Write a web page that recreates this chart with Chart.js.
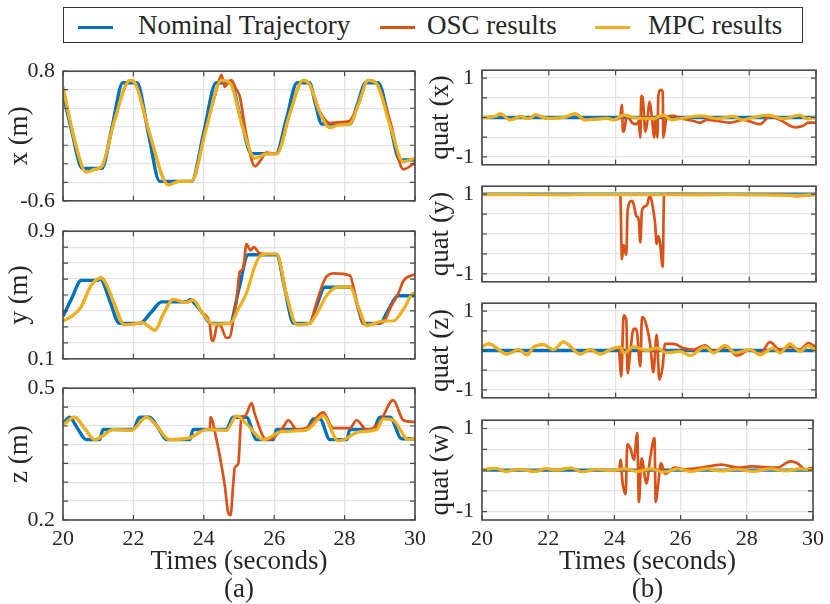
<!DOCTYPE html>
<html>
<head>
<meta charset="utf-8">
<script src="https://cdn.jsdelivr.net/npm/chart.js@4.4.0/dist/chart.umd.min.js"></script>
<style>
  body { margin: 0; background: #fff; width: 830px; height: 604px; position: relative; overflow: hidden;
         font-family: "Liberation Serif", "Times New Roman", serif; color: #262626; }
  canvas { position: absolute; }
  #legend { position: absolute; left: 63px; top: 7px; width: 740px; height: 36px; box-sizing: border-box;
            border: 1.5px solid #333; background: #fff; }
  #legend .ln { position: absolute; top: 18px; width: 35px; height: 3px; }
  #legend .lt { position: absolute; top: 0; line-height: 34px; font-size: 27px; white-space: nowrap; }
</style>
</head>
<body>
<div id="legend">
  <span class="ln" style="left:14px;background:#0072BD"></span><span class="lt" style="left:74px">Nominal Trajectory</span>
  <span class="ln" style="left:316px;background:#D95319"></span><span class="lt" style="left:363px">OSC results</span>
  <span class="ln" style="left:531px;background:#EDB120"></span><span class="lt" style="left:584px">MPC results</span>
</div>
<canvas id="cx" width="435" height="172" style="left:0;top:50px"></canvas>
<canvas id="cy" width="435" height="170" style="left:0;top:210px"></canvas>
<canvas id="cz" width="435" height="237" style="left:0;top:367px"></canvas>
<canvas id="qx" width="405" height="137" style="left:425px;top:49px"></canvas>
<canvas id="qy" width="405" height="138" style="left:425px;top:165px"></canvas>
<canvas id="qz" width="405" height="137" style="left:425px;top:282px"></canvas>
<canvas id="qw" width="405" height="205" style="left:425px;top:399px"></canvas>
<script>
// ---- data ----
const timeTicks = [20, 22, 24, 26, 28, 30];

// x position
const xNomT = [20, 20.25, 20.55, 21.1, 21.4, 21.7, 22.1, 22.42, 22.75, 23.65, 24.0, 24.35, 24.75, 25.05, 25.35, 26.05, 26.35, 26.65, 27.0, 27.17, 27.35, 28.15, 28.37, 28.6, 28.95, 29.27, 29.57, 30];
const xNomV = [0.56, 0.15, -0.25, -0.25, 0.21, 0.676, 0.676, 0.14, -0.39, -0.39, 0.14, 0.676, 0.676, 0.29, -0.09, -0.09, 0.29, 0.676, 0.676, 0.45, 0.23, 0.23, 0.45, 0.676, 0.676, 0.26, -0.16, -0.16];
const xMpcT = [20, 20.3, 20.66, 20.9, 21.1, 21.45, 21.9, 22.05, 22.45, 22.99, 23.3, 23.65, 24.05, 24.5, 24.75, 25.1, 25.45, 25.78, 26.07, 26.45, 26.82, 27.0, 27.3, 27.58, 27.85, 28.15, 28.4, 28.67, 28.9, 29.3, 29.67, 30];
const xMpcV = [0.63, 0.1, -0.29, -0.26, -0.23, 0.25, 0.70, 0.67, 0.14, -0.427, -0.39, -0.39, 0.15, 0.70, 0.67, 0.2, -0.14, -0.093, -0.093, 0.35, 0.70, 0.66, 0.35, 0.19, 0.22, 0.23, 0.45, 0.70, 0.67, 0.2, -0.177, -0.14];
const xOscT = [20, 20.3, 20.66, 20.9, 21.1, 21.45, 21.9, 22.05, 22.45, 22.99, 23.3, 23.65, 24.05, 24.35, 24.5, 24.6, 24.7, 24.79, 24.9, 25.02, 25.2, 25.45, 25.6, 25.78, 26.07, 26.45, 26.82, 27.0, 27.3, 27.58, 27.85, 28.12, 28.4, 28.67, 28.9, 29.3, 29.67, 30];
const xOscV = [0.63, 0.1, -0.29, -0.26, -0.23, 0.25, 0.70, 0.67, 0.14, -0.427, -0.39, -0.39, 0.17, 0.58, 0.76, 0.63, 0.69, 0.70, 0.62, 0.53, 0.13, -0.227, -0.17, -0.08, -0.093, 0.35, 0.70, 0.66, 0.36, 0.24, 0.25, 0.26, 0.45, 0.70, 0.67, 0.25, -0.26, -0.19];

// y position
const yNomT = [20, 20.25, 20.52, 21.0, 21.06, 21.12, 21.35, 21.6, 22.18, 22.5, 22.8, 23.5, 23.62, 23.7, 23.95, 24.2, 24.74, 25.0, 25.26, 26.07, 26.3, 26.55, 27.0, 27.2, 27.44, 28.2, 28.37, 28.54, 29.0, 29.25, 29.52, 30];
const yNomV = [0.366, 0.48, 0.592, 0.592, 0.605, 0.59, 0.45, 0.322, 0.322, 0.39, 0.457, 0.457, 0.47, 0.457, 0.39, 0.322, 0.322, 0.54, 0.752, 0.752, 0.54, 0.322, 0.322, 0.43, 0.549, 0.549, 0.43, 0.322, 0.322, 0.41, 0.495, 0.495];
const yMpcT = [20, 20.24, 20.5, 20.8, 21.09, 21.2, 21.45, 21.74, 22.0, 22.27, 22.45, 22.61, 22.85, 23.13, 23.5, 23.7, 23.95, 24.27, 24.74, 25.0, 25.21, 25.45, 25.59, 25.78, 26.07, 26.35, 26.64, 27.01, 27.2, 27.5, 27.82, 28.15, 28.4, 28.63, 29.1, 29.38, 29.7, 29.95, 30];
const yMpcV = [0.337, 0.366, 0.42, 0.56, 0.607, 0.58, 0.45, 0.314, 0.318, 0.327, 0.3, 0.279, 0.38, 0.472, 0.453, 0.468, 0.39, 0.318, 0.322, 0.42, 0.511, 0.68, 0.742, 0.757, 0.757, 0.5, 0.314, 0.322, 0.38, 0.5, 0.549, 0.549, 0.42, 0.308, 0.337, 0.337, 0.42, 0.511, 0.51];
const yOscT = [20, 20.24, 20.5, 20.8, 21.09, 21.2, 21.45, 21.74, 22.0, 22.27, 22.45, 22.61, 22.85, 23.13, 23.5, 23.7, 23.95, 24.17, 24.22, 24.27, 24.36, 24.41, 24.5, 24.64, 24.74, 24.85, 24.93, 25.02, 25.12, 25.21, 25.33, 25.42, 25.59, 25.78, 26.07, 26.35, 26.64, 27.01, 27.2, 27.44, 27.68, 28.15, 28.35, 28.58, 29.1, 29.3, 29.53, 29.67, 30];
const yOscV = [0.337, 0.366, 0.42, 0.56, 0.607, 0.58, 0.45, 0.314, 0.318, 0.327, 0.3, 0.279, 0.38, 0.472, 0.453, 0.468, 0.39, 0.318, 0.221, 0.212, 0.30, 0.318, 0.299, 0.231, 0.237, 0.36, 0.47, 0.645, 0.665, 0.819, 0.78, 0.80, 0.761, 0.757, 0.757, 0.5, 0.314, 0.322, 0.45, 0.60, 0.636, 0.622, 0.45, 0.314, 0.33, 0.42, 0.511, 0.588, 0.63];

// z position
const zNomT = [20, 20.19, 20.4, 20.66, 21.04, 21.14, 21.99, 22.18, 22.46, 22.7, 22.94, 23.6, 23.7, 24.64, 24.83, 25.21, 25.5, 25.97, 26.07, 26.92, 27.11, 27.3, 27.58, 28.06, 28.15, 28.82, 29.0, 29.29, 29.62, 30];
const zNomV = [0.419, 0.434, 0.41, 0.383, 0.383, 0.406, 0.406, 0.434, 0.434, 0.41, 0.383, 0.383, 0.406, 0.406, 0.434, 0.434, 0.383, 0.383, 0.406, 0.406, 0.430, 0.430, 0.383, 0.383, 0.406, 0.406, 0.434, 0.434, 0.385, 0.385];
const zMpcT = [20, 20.33, 20.6, 20.9, 21.1, 21.42, 21.94, 22.37, 22.6, 23.03, 23.6, 24.08, 24.64, 24.93, 25.2, 25.69, 26.21, 26.92, 27.39, 27.82, 28.44, 28.91, 29.1, 29.38, 29.81, 30];
const zMpcV = [0.416, 0.434, 0.41, 0.383, 0.39, 0.406, 0.404, 0.434, 0.42, 0.383, 0.387, 0.406, 0.404, 0.437, 0.42, 0.383, 0.401, 0.405, 0.437, 0.380, 0.401, 0.406, 0.43, 0.427, 0.383, 0.387];
const zOscT = [20, 20.33, 20.6, 20.9, 21.1, 21.42, 21.94, 22.37, 22.6, 23.03, 23.6, 24.08, 24.17, 24.19, 24.36, 24.5, 24.6, 24.69, 24.76, 24.83, 24.88, 24.98, 25.07, 25.17, 25.36, 25.45, 25.78, 25.97, 26.26, 26.40, 26.64, 26.97, 27.39, 27.68, 28.15, 28.34, 28.63, 29.0, 29.38, 29.67, 30];
const zOscV = [0.416, 0.434, 0.41, 0.383, 0.39, 0.406, 0.404, 0.434, 0.42, 0.383, 0.387, 0.406, 0.406, 0.434, 0.383, 0.326, 0.276, 0.218, 0.211, 0.276, 0.319, 0.329, 0.434, 0.437, 0.466, 0.441, 0.383, 0.387, 0.412, 0.427, 0.406, 0.412, 0.445, 0.409, 0.409, 0.427, 0.405, 0.423, 0.473, 0.427, 0.423];

// quaternion, nominal
const qNomT = [20, 30];
const qxNomV = [0, 0];
const qyNomV = [1, 1];
const qzNomV = [0, 0];
const qwNomV = [0, 0];

// quat (x)
const qxMpcT = [20, 20.4, 20.55, 20.85, 21.15, 21.4, 21.6, 21.94, 22.44, 22.79, 23.09, 23.74, 23.94, 24.24, 24.54, 25.13, 25.43, 25.68, 26.13, 26.58, 27.03, 27.53, 27.78, 28.13, 28.57, 29.02, 29.52, 29.72, 30];
const qxMpcV = [0, 0.03, 0.09, -0.06, 0.02, -0.03, 0.07, -0.02, 0, 0.09, -0.06, -0.02, -0.06, 0.06, 0, -0.03, 0.06, -0.06, 0, 0.04, -0.03, 0.03, -0.06, 0, 0.06, -0.03, 0.06, -0.03, 0];
const qxOscT = [20, 20.4, 20.55, 20.85, 21.15, 21.4, 21.6, 21.94, 22.44, 22.79, 23.09, 23.74, 23.94, 24.14, 24.19, 24.22, 24.26, 24.34, 24.49, 24.64, 24.69, 24.74, 24.77, 24.81, 24.89, 24.94, 25.02, 25.08, 25.16, 25.2, 25.25, 25.28, 25.35, 25.41, 25.43, 25.53, 25.73, 25.93, 26.33, 26.53, 26.73, 27.43, 27.83, 28.32, 28.62, 28.92, 29.37, 29.62, 29.77, 30];
const qxOscV = [0, 0.03, 0.09, -0.06, 0.02, -0.03, 0.07, -0.02, 0, 0.09, -0.06, -0.02, -0.06, 0.02, 0.32, -0.36, -0.32, 0.06, -0.13, -0.17, -0.09, -0.51, 0.55, 0.51, -0.36, -0.17, 0.40, 0.06, -0.51, 0.02, -0.51, 0.55, 0.70, 0.66, -0.51, 0.02, 0.04, -0.02, -0.09, -0.13, -0.06, -0.13, -0.06, -0.17, 0.02, -0.06, -0.25, -0.21, -0.13, -0.13];

// quat (y)
const qyMpcT = [20, 21, 22.5, 23, 25, 26.5, 27.5, 29.4, 30];
const qyMpcV = [0.99, 0.99, 0.98, 0.99, 0.99, 0.98, 0.99, 0.97, 0.99];
const qyOscT = [20, 24.14, 24.19, 24.24, 24.32, 24.36, 24.49, 24.54, 24.62, 24.69, 24.74, 24.79, 24.94, 25.02, 25.08, 25.18, 25.23, 25.28, 25.33, 25.41, 25.45, 25.53, 29.0, 29.4, 30];
const qyOscV = [0.99, 0.99, -0.63, -0.28, -0.52, 0.6, 0.83, 0.75, 0.45, 0.37, -0.21, 0.6, 0.72, 0.97, 0.83, 0.29, -0.25, -0.05, -0.21, -0.82, 0.95, 1, 0.99, 0.95, 0.99];

// quat (z)
const qzMpcT = [20, 20.2, 20.75, 21.1, 21.35, 21.55, 21.84, 22.14, 22.44, 22.94, 23.24, 23.54, 23.84, 24.14, 24.24, 24.54, 24.94, 25.23, 25.53, 25.93, 26.23, 26.68, 26.93, 27.28, 27.58, 28.03, 28.32, 28.72, 28.92, 29.22, 29.52, 29.77, 30];
const qzMpcV = [0.1, 0.17, -0.09, 0.02, -0.11, 0.09, 0.15, 0.02, 0.22, -0.09, 0.02, -0.09, 0.02, 0.09, -0.06, 0.09, 0, 0.06, -0.06, -0.02, -0.13, 0.09, -0.06, 0.13, -0.06, 0.02, -0.11, 0.06, -0.06, 0.17, -0.02, 0.12, -0.02];
const qzOscT = [20, 20.2, 20.75, 21.1, 21.35, 21.55, 21.84, 22.14, 22.44, 22.94, 23.24, 23.54, 23.84, 24.09, 24.17, 24.24, 24.32, 24.36, 24.44, 24.54, 24.62, 24.74, 24.79, 24.89, 25.04, 25.13, 25.23, 25.31, 25.41, 25.48, 25.73, 26.03, 26.33, 26.68, 26.93, 27.33, 27.63, 28.03, 28.32, 28.62, 28.92, 29.22, 29.52, 29.77, 30];
const qzOscV = [0.1, 0.17, -0.09, 0.02, -0.11, 0.09, 0.15, 0.02, 0.22, -0.09, 0.02, -0.09, 0.02, 0.08, -0.66, 0.89, 0.77, -0.58, -0.02, 0.55, 0.55, -0.40, 0.85, 0.74, 0.13, -0.55, 0.40, -0.74, -0.40, 0.17, 0.17, 0.06, 0.02, 0.13, -0.02, 0.09, -0.13, 0.02, -0.09, 0.21, 0.02, 0.09, 0.02, 0.19, 0.09];

// quat (w)
const qwMpcT = [20, 20.4, 20.75, 21.1, 21.6, 21.94, 22.2, 22.7, 23.0, 23.5, 23.9, 24.3, 24.7, 25.1, 25.5, 25.9, 26.3, 26.8, 27.2, 27.7, 28.2, 28.7, 29.2, 29.6, 30];
const qwMpcV = [0, 0.04, -0.03, 0.02, -0.03, 0.04, 0, 0.05, -0.04, 0.02, -0.01, 0.03, -0.03, 0.03, -0.05, 0.03, -0.03, 0.03, -0.02, 0.02, -0.03, 0.03, -0.02, 0.03, 0];
const qwOscT = [20, 20.4, 20.75, 21.1, 21.6, 21.94, 22.2, 22.7, 23.0, 23.5, 23.9, 24.14, 24.19, 24.24, 24.34, 24.39, 24.49, 24.59, 24.69, 24.74, 24.82, 24.97, 25.08, 25.21, 25.25, 25.31, 25.41, 25.53, 25.83, 26.13, 26.63, 27.23, 27.73, 28.13, 28.92, 29.32, 29.52, 29.77, 30];
const qwOscV = [0, 0.04, -0.03, 0.02, -0.03, 0.04, 0, 0.05, -0.04, 0.02, -0.01, 0.01, 0.25, -0.25, -0.58, 0.62, 0.51, 0.25, 0.89, -0.77, 0.28, -0.32, 0.28, 0.77, -0.77, -0.43, 0.17, -0.09, 0.06, 0.02, 0.06, 0.13, 0.06, 0.09, 0.06, 0.21, 0.17, 0.02, 0.06];

// y grid / tick values
const xPosTicks = [-0.6, -0.4, -0.2, 0, 0.2, 0.4, 0.6, 0.8];
const yPosTicks = [0.1, 0.2, 0.3, 0.4, 0.5, 0.6, 0.7, 0.8, 0.9];
const zPosTicks = [0.2, 0.243, 0.286, 0.329, 0.371, 0.414, 0.457, 0.5];
const quatTicks = [-1, -0.5, 0, 0.5, 1];
const xPosLabels = [-0.6, 0.8];
const yPosLabels = [0.1, 0.9];
const zPosLabels = [0.2, 0.5];
const quatLabels = [-1, 1];

// ---- styling ----
const BLUE = '#0072BD', RED = '#D95319', YELLOW = '#EDB120';
const TEXT = '#262626', GRID = '#e3e3e3', FRAME = '#4a4a4a';
Chart.defaults.font.family = '"Liberation Serif", "Times New Roman", serif';
Chart.defaults.color = TEXT;

const zip = (t, v) => t.map((x, i) => ({ x: x, y: v[i] }));

// box round the plot area with inward tick marks, MATLAB style
const framePlugin = {
  id: 'frame',
  afterDatasetsDraw(chart) {
    const { ctx, chartArea: a, scales } = chart;
    ctx.save();
    ctx.strokeStyle = FRAME;
    ctx.lineWidth = 1.2;
    ctx.beginPath();
    scales.x.ticks.forEach(t => {
      const px = scales.x.getPixelForValue(t.value);
      ctx.moveTo(px, a.bottom); ctx.lineTo(px, a.bottom - 5);
      ctx.moveTo(px, a.top); ctx.lineTo(px, a.top + 5);
    });
    scales.y.ticks.forEach(t => {
      const py = scales.y.getPixelForValue(t.value);
      ctx.moveTo(a.left, py); ctx.lineTo(a.left + 5, py);
      ctx.moveTo(a.right, py); ctx.lineTo(a.right - 5, py);
    });
    ctx.stroke();
    ctx.lineWidth = 1.6;
    ctx.strokeRect(a.left, a.top, a.right - a.left, a.bottom - a.top);
    ctx.restore();
  }
};

function panel(id, cfg) {
  const bottom = !!cfg.sub;
  new Chart(document.getElementById(id), {
    type: 'line',
    data: {
      datasets: [
        { label: 'Nominal Trajectory', data: zip(cfg.nom[0], cfg.nom[1]), borderColor: BLUE, borderWidth: 3.4, order: 2 },
        { label: 'OSC results', data: zip(cfg.osc[0], cfg.osc[1]), borderColor: RED, borderWidth: 2.7, order: 1 },
        { label: 'MPC results', data: zip(cfg.mpc[0], cfg.mpc[1]), borderColor: YELLOW, borderWidth: 3.2, order: 0 }
      ]
    },
    options: {
      responsive: false,
      animation: false,
      elements: { point: { radius: 0 }, line: { cubicInterpolationMode: 'monotone' } },
      plugins: { legend: { display: false }, tooltip: { enabled: false } },
      layout: { padding: { top: 16, left: 0, right: cfg.padRight, bottom: bottom ? 0 : 16 } },
      scales: {
        x: {
          type: 'linear', min: 20, max: 30,
          afterBuildTicks: s => { s.ticks = timeTicks.map(v => ({ value: v })); },
          afterFit: s => { s.height = bottom ? 84 : 0; },
          grid: { color: GRID, lineWidth: 1.3, drawTicks: false },
          border: { display: false },
          ticks: { display: bottom, autoSkip: false, padding: 6, font: { size: 22 }, color: TEXT, maxRotation: 0,
                   callback: v => String(v) },
          title: { display: bottom, text: ['Times (seconds)', cfg.sub || ''],
                   font: { size: 27, lineHeight: 1.04 }, color: TEXT, padding: { top: 0, bottom: 0 } }
        },
        y: {
          min: cfg.min, max: cfg.max,
          afterBuildTicks: s => { s.ticks = cfg.ticks.map(v => ({ value: v })); },
          afterFit: s => { s.width = cfg.yW; },
          grid: { color: GRID, lineWidth: 1.3, drawTicks: false },
          border: { display: false },
          ticks: { autoSkip: false, padding: 8, font: { size: 22 }, color: TEXT,
                   callback: v => cfg.labels.includes(v) ? String(v) : '' },
          title: { display: true, text: cfg.title, font: { size: 27 }, color: TEXT,
                   padding: { top: cfg.titlePad, bottom: 0 } }
        }
      }
    },
    plugins: [framePlugin]
  });
}

const left = { yW: 63, padRight: 20, titlePad: 4 };
const right = { yW: 57, padRight: 14, titlePad: 0 };

panel('cx', Object.assign({}, left, { title: 'x (m)', min: -0.6, max: 0.8, ticks: xPosTicks, labels: xPosLabels,
  nom: [xNomT, xNomV], osc: [xOscT, xOscV], mpc: [xMpcT, xMpcV] }));
panel('cy', Object.assign({}, left, { title: 'y (m)', min: 0.1, max: 0.9, ticks: yPosTicks, labels: yPosLabels,
  nom: [yNomT, yNomV], osc: [yOscT, yOscV], mpc: [yMpcT, yMpcV] }));
panel('cz', Object.assign({}, left, { title: 'z (m)', min: 0.2, max: 0.5, ticks: zPosTicks, labels: zPosLabels,
  nom: [zNomT, zNomV], osc: [zOscT, zOscV], mpc: [zMpcT, zMpcV], sub: '(a)' }));

panel('qx', Object.assign({}, right, { title: 'quat (x)', min: -1.2, max: 1.2, ticks: quatTicks, labels: quatLabels,
  nom: [qNomT, qxNomV], osc: [qxOscT, qxOscV], mpc: [qxMpcT, qxMpcV] }));
panel('qy', Object.assign({}, right, { title: 'quat (y)', min: -1.2, max: 1.2, ticks: quatTicks, labels: quatLabels,
  nom: [qNomT, qyNomV], osc: [qyOscT, qyOscV], mpc: [qyMpcT, qyMpcV] }));
panel('qz', Object.assign({}, right, { title: 'quat (z)', min: -1.2, max: 1.2, ticks: quatTicks, labels: quatLabels,
  nom: [qNomT, qzNomV], osc: [qzOscT, qzOscV], mpc: [qzMpcT, qzMpcV] }));
panel('qw', Object.assign({}, right, { title: 'quat (w)', min: -1.2, max: 1.2, ticks: quatTicks, labels: quatLabels,
  nom: [qNomT, qwNomV], osc: [qwOscT, qwOscV], mpc: [qwMpcT, qwMpcV], sub: '(b)' }));
</script>
</body>
</html>
